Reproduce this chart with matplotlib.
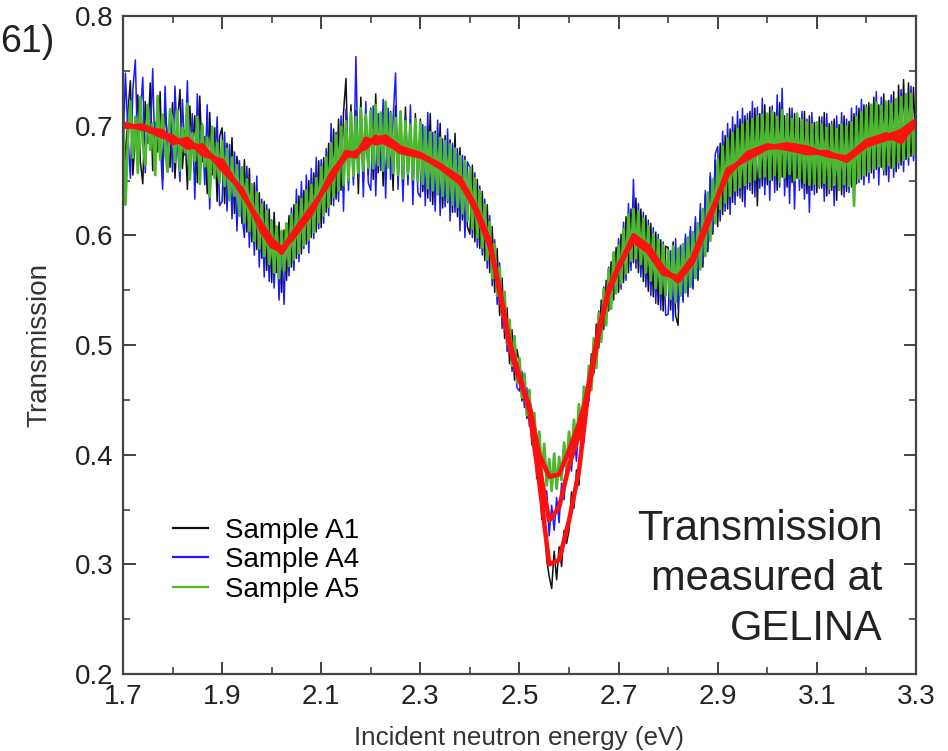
import numpy as np
import matplotlib
matplotlib.use("Agg")
import matplotlib.pyplot as plt
from matplotlib.ticker import FixedLocator

plt.rcParams["font.family"] = ["Liberation Sans", "DejaVu Sans"]

# data (transmission vs incident energy, step 0.005 eV)
energy = np.round(np.linspace(1.70, 3.30, 321), 3)

sample_a1 = [
    0.735, 0.662, 0.712, 0.741, 0.655, 0.690, 0.728, 0.668, 0.647, 0.722, 0.684, 0.739, 0.659, 0.703, 0.676, 0.731, 0.650, 0.714, 0.688, 0.662,
    0.721, 0.652, 0.702, 0.733, 0.661, 0.695, 0.642, 0.718, 0.676, 0.709, 0.648, 0.727, 0.667, 0.690, 0.638, 0.712, 0.655, 0.698, 0.631, 0.690,
    0.698, 0.629, 0.684, 0.641, 0.689, 0.620, 0.672, 0.652, 0.611, 0.669, 0.603, 0.661, 0.594, 0.648, 0.587, 0.639, 0.579, 0.631, 0.568, 0.624,
    0.557, 0.621, 0.566, 0.612, 0.548, 0.605, 0.559, 0.618, 0.571, 0.628, 0.579, 0.636, 0.583, 0.641, 0.592, 0.650, 0.598, 0.657, 0.603, 0.668,
    0.607, 0.671, 0.621, 0.684, 0.628, 0.697, 0.633, 0.706, 0.641, 0.712, 0.743, 0.648, 0.719, 0.652, 0.714, 0.638, 0.726, 0.649, 0.709, 0.655,
    0.716, 0.651, 0.729, 0.657, 0.709, 0.645, 0.721, 0.662, 0.713, 0.641, 0.718, 0.654, 0.706, 0.639, 0.717, 0.651, 0.702, 0.644, 0.711, 0.648,
    0.706, 0.640, 0.699, 0.634, 0.711, 0.628, 0.695, 0.637, 0.702, 0.625, 0.691, 0.630, 0.687, 0.621, 0.693, 0.617, 0.680, 0.614, 0.672, 0.608,
    0.601, 0.664, 0.594, 0.651, 0.588, 0.640, 0.577, 0.628, 0.566, 0.608, 0.548, 0.588, 0.527, 0.561, 0.506, 0.534, 0.483, 0.514, 0.468, 0.496,
    0.482, 0.449, 0.468, 0.433, 0.452, 0.409, 0.419, 0.378, 0.386, 0.341, 0.348, 0.304, 0.289, 0.278, 0.312, 0.286, 0.316, 0.298, 0.331, 0.319,
    0.331, 0.366, 0.351, 0.386, 0.372, 0.421, 0.411, 0.462, 0.449, 0.492, 0.474, 0.519, 0.497, 0.541, 0.514, 0.559, 0.531, 0.576, 0.541, 0.589,
    0.548, 0.601, 0.557, 0.617, 0.566, 0.624, 0.575, 0.634, 0.566, 0.624, 0.558, 0.618, 0.549, 0.611, 0.544, 0.603, 0.537, 0.596, 0.531, 0.590,
    0.589, 0.532, 0.594, 0.527, 0.518, 0.590, 0.541, 0.598, 0.547, 0.604, 0.552, 0.612, 0.559, 0.623, 0.571, 0.637, 0.585, 0.654, 0.601, 0.668,
    0.608, 0.684, 0.619, 0.691, 0.624, 0.697, 0.630, 0.701, 0.636, 0.706, 0.631, 0.709, 0.642, 0.713, 0.638, 0.716, 0.627, 0.711, 0.645, 0.719,
    0.646, 0.717, 0.650, 0.712, 0.641, 0.721, 0.653, 0.709, 0.644, 0.716, 0.648, 0.711, 0.652, 0.707, 0.643, 0.713, 0.638, 0.709, 0.641, 0.703,
    0.639, 0.708, 0.643, 0.712, 0.636, 0.702, 0.641, 0.706, 0.632, 0.701, 0.637, 0.709, 0.640, 0.704, 0.644, 0.711, 0.647, 0.716, 0.651, 0.719,
    0.654, 0.721, 0.657, 0.726, 0.660, 0.719, 0.662, 0.729, 0.655, 0.723, 0.661, 0.731, 0.658, 0.737, 0.664, 0.742, 0.669, 0.739, 0.672, 0.735,
    0.678,
]

sample_a4 = [
    0.671, 0.748, 0.693, 0.652, 0.733, 0.760, 0.668, 0.709, 0.744, 0.657, 0.718, 0.681, 0.752, 0.663, 0.725, 0.690, 0.642, 0.736, 0.672, 0.711,
    0.658, 0.736, 0.681, 0.649, 0.724, 0.673, 0.741, 0.655, 0.711, 0.633, 0.729, 0.679, 0.702, 0.646, 0.719, 0.624, 0.694, 0.662, 0.708, 0.627,
    0.631, 0.694, 0.622, 0.683, 0.615, 0.676, 0.604, 0.668, 0.619, 0.598, 0.663, 0.589, 0.647, 0.582, 0.654, 0.571, 0.633, 0.562, 0.628, 0.558,
    0.614, 0.552, 0.608, 0.541, 0.598, 0.537, 0.611, 0.563, 0.625, 0.568, 0.642, 0.576, 0.649, 0.588, 0.655, 0.584, 0.661, 0.597, 0.671, 0.606,
    0.669, 0.611, 0.679, 0.618, 0.702, 0.627, 0.694, 0.631, 0.709, 0.622, 0.715, 0.641, 0.701, 0.646, 0.763, 0.652, 0.711, 0.635, 0.722, 0.648,
    0.641, 0.718, 0.636, 0.711, 0.659, 0.724, 0.634, 0.716, 0.651, 0.706, 0.748, 0.642, 0.713, 0.631, 0.709, 0.646, 0.719, 0.628, 0.704, 0.639,
    0.635, 0.701, 0.627, 0.712, 0.631, 0.694, 0.622, 0.705, 0.618, 0.688, 0.626, 0.697, 0.613, 0.684, 0.621, 0.679, 0.604, 0.673, 0.598, 0.667,
    0.662, 0.598, 0.657, 0.589, 0.645, 0.582, 0.633, 0.570, 0.618, 0.554, 0.596, 0.537, 0.575, 0.515, 0.549, 0.494, 0.521, 0.476, 0.503, 0.461,
    0.458, 0.476, 0.443, 0.461, 0.426, 0.441, 0.402, 0.416, 0.377, 0.392, 0.352, 0.367, 0.326, 0.354, 0.331, 0.361, 0.338, 0.374, 0.359, 0.392,
    0.403, 0.385, 0.419, 0.394, 0.431, 0.414, 0.458, 0.436, 0.479, 0.461, 0.506, 0.484, 0.531, 0.505, 0.553, 0.521, 0.571, 0.536, 0.585, 0.548,
    0.597, 0.551, 0.612, 0.559, 0.629, 0.568, 0.651, 0.570, 0.629, 0.562, 0.621, 0.553, 0.614, 0.545, 0.607, 0.538, 0.601, 0.532, 0.594, 0.527,
    0.528, 0.586, 0.522, 0.597, 0.533, 0.591, 0.539, 0.601, 0.544, 0.608, 0.551, 0.617, 0.561, 0.629, 0.574, 0.641, 0.588, 0.657, 0.603, 0.674,
    0.681, 0.613, 0.695, 0.622, 0.702, 0.619, 0.708, 0.628, 0.713, 0.634, 0.716, 0.626, 0.711, 0.641, 0.722, 0.635, 0.717, 0.643, 0.725, 0.637,
    0.709, 0.632, 0.718, 0.639, 0.728, 0.644, 0.734, 0.636, 0.711, 0.629, 0.716, 0.624, 0.709, 0.641, 0.713, 0.633, 0.706, 0.621, 0.712, 0.637,
    0.702, 0.643, 0.708, 0.631, 0.711, 0.638, 0.704, 0.627, 0.709, 0.641, 0.712, 0.635, 0.706, 0.639, 0.716, 0.643, 0.718, 0.648, 0.724, 0.646,
    0.719, 0.648, 0.713, 0.652, 0.731, 0.646, 0.726, 0.655, 0.721, 0.649, 0.728, 0.653, 0.719, 0.661, 0.733, 0.658, 0.729, 0.664, 0.736, 0.668,
    0.708,
]

sample_a5 = [
    0.712, 0.628, 0.688, 0.722, 0.671, 0.708, 0.657, 0.726, 0.684, 0.664, 0.719, 0.678, 0.702, 0.655, 0.727, 0.669, 0.710, 0.681, 0.658, 0.715,
    0.705, 0.667, 0.714, 0.659, 0.698, 0.676, 0.720, 0.651, 0.693, 0.668, 0.708, 0.647, 0.701, 0.663, 0.689, 0.635, 0.699, 0.652, 0.684, 0.648,
    0.686, 0.645, 0.679, 0.632, 0.671, 0.636, 0.664, 0.618, 0.662, 0.612, 0.651, 0.604, 0.646, 0.595, 0.639, 0.588, 0.628, 0.581, 0.622, 0.574,
    0.612, 0.566, 0.608, 0.561, 0.604, 0.568, 0.611, 0.572, 0.619, 0.578, 0.628, 0.584, 0.633, 0.591, 0.641, 0.596, 0.646, 0.603, 0.652, 0.612,
    0.662, 0.618, 0.671, 0.626, 0.684, 0.635, 0.691, 0.641, 0.699, 0.646, 0.704, 0.650, 0.712, 0.654, 0.708, 0.657, 0.716, 0.659, 0.710, 0.662,
    0.714, 0.661, 0.719, 0.664, 0.712, 0.659, 0.722, 0.662, 0.711, 0.657, 0.707, 0.655, 0.713, 0.652, 0.704, 0.656, 0.701, 0.651, 0.706, 0.649,
    0.703, 0.647, 0.698, 0.643, 0.694, 0.641, 0.692, 0.638, 0.689, 0.636, 0.686, 0.632, 0.683, 0.628, 0.679, 0.626, 0.672, 0.620, 0.668, 0.613,
    0.661, 0.606, 0.652, 0.598, 0.641, 0.589, 0.628, 0.578, 0.612, 0.561, 0.592, 0.545, 0.571, 0.526, 0.548, 0.501, 0.523, 0.481, 0.508, 0.466,
    0.488, 0.452, 0.474, 0.436, 0.459, 0.417, 0.438, 0.398, 0.421, 0.382, 0.410, 0.372, 0.396, 0.367, 0.401, 0.369, 0.398, 0.377, 0.411, 0.387,
    0.421, 0.398, 0.432, 0.407, 0.446, 0.421, 0.462, 0.438, 0.481, 0.459, 0.506, 0.479, 0.529, 0.503, 0.551, 0.518, 0.569, 0.533, 0.584, 0.547,
    0.591, 0.556, 0.606, 0.565, 0.619, 0.577, 0.624, 0.579, 0.622, 0.574, 0.615, 0.566, 0.608, 0.559, 0.601, 0.552, 0.596, 0.547, 0.591, 0.545,
    0.586, 0.542, 0.590, 0.539, 0.588, 0.545, 0.592, 0.548, 0.598, 0.553, 0.603, 0.561, 0.611, 0.569, 0.624, 0.581, 0.639, 0.595, 0.651, 0.611,
    0.669, 0.624, 0.681, 0.630, 0.688, 0.636, 0.693, 0.641, 0.697, 0.644, 0.701, 0.646, 0.704, 0.649, 0.706, 0.651, 0.708, 0.653, 0.710, 0.654,
    0.711, 0.651, 0.713, 0.655, 0.708, 0.649, 0.714, 0.653, 0.709, 0.656, 0.706, 0.650, 0.711, 0.652, 0.705, 0.648, 0.703, 0.646, 0.701, 0.647,
    0.703, 0.645, 0.701, 0.648, 0.698, 0.643, 0.700, 0.646, 0.697, 0.642, 0.701, 0.647, 0.699, 0.645, 0.703, 0.627, 0.708, 0.652, 0.712, 0.655,
    0.716, 0.658, 0.719, 0.661, 0.721, 0.663, 0.718, 0.660, 0.722, 0.664, 0.720, 0.662, 0.724, 0.667, 0.726, 0.669, 0.728, 0.672, 0.729, 0.674,
    0.701,
]

# fitted curves (red), one per sample
fit_energy = [
    1.70, 1.74, 1.78, 1.80, 1.83, 1.86, 1.90, 1.94, 1.98, 2.00,
    2.02, 2.04, 2.08, 2.12, 2.15, 2.17, 2.19, 2.21, 2.23, 2.26,
    2.30, 2.34, 2.38, 2.41, 2.44, 2.46, 2.48, 2.50, 2.52, 2.54,
    2.56, 2.58, 2.60, 2.62, 2.64, 2.66, 2.68, 2.70, 2.73, 2.76,
    2.79, 2.82, 2.85, 2.88, 2.92, 2.96, 3.00, 3.04, 3.08, 3.12,
    3.16, 3.20, 3.24, 3.27, 3.30,
]
fit_a1 = [
    0.700, 0.698, 0.690, 0.688, 0.684, 0.680, 0.664, 0.640, 0.607, 0.594,
    0.584, 0.598, 0.622, 0.653, 0.672, 0.676, 0.680, 0.690, 0.684, 0.678,
    0.673, 0.662, 0.648, 0.626, 0.592, 0.550, 0.500, 0.470, 0.440, 0.375,
    0.300, 0.304, 0.340, 0.385, 0.462, 0.512, 0.548, 0.570, 0.598, 0.588,
    0.568, 0.560, 0.578, 0.612, 0.658, 0.672, 0.680, 0.681, 0.677, 0.674,
    0.671, 0.685, 0.690, 0.695, 0.705,
]
fit_a4 = [
    0.702, 0.697, 0.695, 0.684, 0.688, 0.674, 0.668, 0.638, 0.610, 0.596,
    0.588, 0.596, 0.620, 0.656, 0.674, 0.672, 0.688, 0.684, 0.686, 0.676,
    0.672, 0.664, 0.650, 0.624, 0.590, 0.552, 0.503, 0.472, 0.442, 0.390,
    0.340, 0.352, 0.390, 0.418, 0.465, 0.515, 0.550, 0.573, 0.595, 0.585,
    0.565, 0.562, 0.580, 0.615, 0.655, 0.675, 0.682, 0.679, 0.675, 0.676,
    0.668, 0.682, 0.688, 0.690, 0.700,
]
fit_a5 = [
    0.699, 0.700, 0.692, 0.690, 0.680, 0.682, 0.660, 0.642, 0.604, 0.590,
    0.586, 0.600, 0.625, 0.650, 0.676, 0.674, 0.684, 0.688, 0.690, 0.680,
    0.674, 0.664, 0.652, 0.628, 0.595, 0.548, 0.498, 0.468, 0.445, 0.400,
    0.380, 0.382, 0.404, 0.428, 0.460, 0.510, 0.552, 0.571, 0.600, 0.590,
    0.570, 0.558, 0.576, 0.610, 0.660, 0.670, 0.680, 0.683, 0.680, 0.673,
    0.670, 0.686, 0.692, 0.685, 0.704,
]

labels = ["Sample A1", "Sample A4", "Sample A5"]
colors = ["#111111", "#1a1aff", "#4cb82e"]
widths = [1.1, 1.1, 2.0]

x_major = [1.7, 1.9, 2.1, 2.3, 2.5, 2.7, 2.9, 3.1, 3.3]
x_minor = [1.8, 2.0, 2.2, 2.4, 2.6, 2.8, 3.0, 3.2]
y_major = [0.2, 0.3, 0.4, 0.5, 0.6, 0.7, 0.8]
y_minor = [0.25, 0.35, 0.45, 0.55, 0.65, 0.75]

# figure
fig = plt.figure(figsize=(9.48, 7.51), dpi=100)
ax = fig.add_axes([0.1297, 0.1025, 0.8365, 0.8762])

for y, lab, c, w in zip([sample_a1, sample_a4, sample_a5], labels, colors, widths):
    ax.plot(energy, y, color=c, lw=w, label=lab)

for fit in [fit_a1, fit_a4, fit_a5]:
    ax.plot(fit_energy, fit, color="#ff1010", lw=3.3, solid_joinstyle="round")

ax.set_xlim(1.7, 3.3)
ax.set_ylim(0.2, 0.8)
ax.xaxis.set_major_locator(FixedLocator(x_major))
ax.xaxis.set_minor_locator(FixedLocator(x_minor))
ax.yaxis.set_major_locator(FixedLocator(y_major))
ax.yaxis.set_minor_locator(FixedLocator(y_minor))
ax.set_xticklabels([f"{v:.1f}" for v in x_major])
ax.set_yticklabels([f"{v:.1f}" for v in y_major])
ax.tick_params(which="both", direction="in", top=True, right=True,
               colors="#333333", labelcolor="#222222", labelsize=20)
ax.tick_params(which="major", length=9, width=1.3, pad=7)
ax.tick_params(which="minor", length=5, width=1.1)
for sp in ax.spines.values():
    sp.set_color("#444444")
    sp.set_linewidth(1.6)

ax.set_xlabel("Incident neutron energy (eV)", fontsize=18.7, color="#333333", labelpad=12)
ax.set_ylabel("Transmission", fontsize=20, color="#333333", labelpad=16)

leg = ax.legend(loc="center left", bbox_to_anchor=(0.063, 0.173), frameon=False,
                fontsize=20, handlelength=1.26, handletextpad=0.6, labelspacing=0.12,
                borderpad=0, borderaxespad=0)
for h in leg.get_lines():
    h.set_linewidth(1.6)

ax.text(0.958, 0.038, "Transmission\nmeasured at\nGELINA", transform=ax.transAxes,
        ha="right", va="bottom", fontsize=30, color="#222222", linespacing=1.32)

fig.text(0.0, 1 - 42 / 751, "61)", ha="left", va="center", fontsize=27, color="#222222")

fig.savefig("out.png", dpi=100)
